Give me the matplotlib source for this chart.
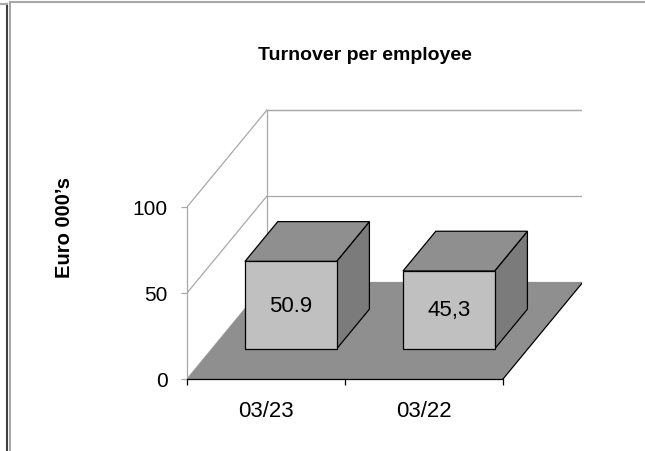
import matplotlib.pyplot as plt
from matplotlib.patches import Polygon, Rectangle
from matplotlib.lines import Line2D

# Data
categories = ['03/23', '03/22']
values = [50.9, 45.3]
value_labels = ['50.9', '45,3']
y_ticks = [0, 50, 100]

plt.rcParams['font.family'] = ['Liberation Sans', 'DejaVu Sans']

W, H = 645, 452
fig = plt.figure(figsize=(W / 100, H / 100), dpi=100)

# axes origin sits on the front-left corner of the floor
x0, y0 = 187, 380
x1, y1 = 582, 108
px_per_cat = 158
px_per_unit = 86 / 50
ax = fig.add_axes([x0 / W, (H - y0) / H, (x1 - x0) / W, (y0 - y1) / H])
ax.set_xlim(0, (x1 - x0) / px_per_cat)
ax.set_ylim(0, (y0 - y1) / px_per_unit)
ax.patch.set_visible(False)

# oblique depth offset in data units
DX = 80 / px_per_cat
DY = 97 / px_per_unit
n = len(categories)
ymax = y_ticks[-1]
wall = '#a8a8a8'
lw = 0.9

# back wall and side wall gridlines
ax.plot([DX, DX, n + DX, n + DX], [DY, DY + ymax, DY + ymax, DY], color=wall, lw=lw)
for t in y_ticks:
    ax.plot([0, DX], [t, t + DY], color=wall, lw=lw)
    ax.plot([DX, n + DX], [t + DY, t + DY], color=wall, lw=lw)

# floor
floor = Polygon([(0, 0), (n, 0), (n + DX, DY), (DX, DY)], closed=True,
                facecolor='#8f8f8f', edgecolor='none', zorder=2)
ax.add_patch(floor)
ax.plot([n, n + DX], [0, DY], color='black', lw=lw, zorder=3)

# bars
d0, d1 = 0.31, 0.72
bw = 0.58
ddx, ddy = (d1 - d0) * DX, (d1 - d0) * DY
for i, (v, lab) in enumerate(zip(values, value_labels)):
    xl = i + 0.5 - bw / 2 + d0 * DX
    yb = d0 * DY
    side = Polygon([(xl + bw, yb), (xl + bw + ddx, yb + ddy),
                    (xl + bw + ddx, yb + v + ddy), (xl + bw, yb + v)],
                   closed=True, facecolor='#7b7b7b', edgecolor='black', lw=lw, zorder=4)
    top = Polygon([(xl, yb + v), (xl + bw, yb + v),
                   (xl + bw + ddx, yb + v + ddy), (xl + ddx, yb + v + ddy)],
                  closed=True, facecolor='#8f8f8f', edgecolor='black', lw=lw, zorder=4)
    front = Rectangle((xl, yb), bw, v, facecolor='#c0c0c0', edgecolor='black', lw=lw, zorder=5)
    ax.add_patch(side)
    ax.add_patch(top)
    ax.add_patch(front)
    ax.text(xl + bw / 2, yb + v / 2, lab, ha='center', va='center', fontsize=16, zorder=6)

# axes styling
for s in ['top', 'right']:
    ax.spines[s].set_visible(False)
ax.spines['left'].set_bounds(0, ymax)
ax.spines['left'].set_color(wall)
ax.spines['left'].set_linewidth(lw)
ax.spines['bottom'].set_bounds(0, n)
ax.spines['bottom'].set_linewidth(lw)
ax.spines['bottom'].set_zorder(3)

ax.set_yticks(y_ticks)
ax.tick_params(axis='y', colors=wall, length=4, width=lw, pad=10, labelsize=15, labelcolor='black')
ax.set_xticks(range(n + 1))
ax.set_xticklabels([])
ax.set_xticks([i + 0.5 for i in range(n)], minor=True)
ax.set_xticklabels(categories, minor=True)
ax.tick_params(axis='x', which='major', length=4, width=lw)
ax.tick_params(axis='x', which='minor', length=0, pad=15, labelsize=16)

# titles
fig.text(365 / W, 1 - 56 / H, 'Turnover per employee', ha='center', va='center',
         fontsize=14, fontweight='bold')
fig.text(64 / W, 1 - 228 / H, 'Euro 000\u2019s', ha='center', va='center',
         rotation=90, fontsize=14.5, fontweight='bold')

# outer frame lines
def frame_line(xs, ys, color, width):
    fig.add_artist(Line2D([x / W for x in xs], [1 - y / H for y in ys],
                          color=color, lw=width, transform=fig.transFigure))

frame_line([10, W], [3, 3], '#a8a8a8', 1.5)
frame_line([10, 10], [3, H], '#a8a8a8', 1.5)
frame_line([7, 7], [5, H], '#404040', 1.5)
frame_line([0, 7], [5, 5], '#a8a8a8', 1.5)

fig.savefig('out.png', dpi=100)
